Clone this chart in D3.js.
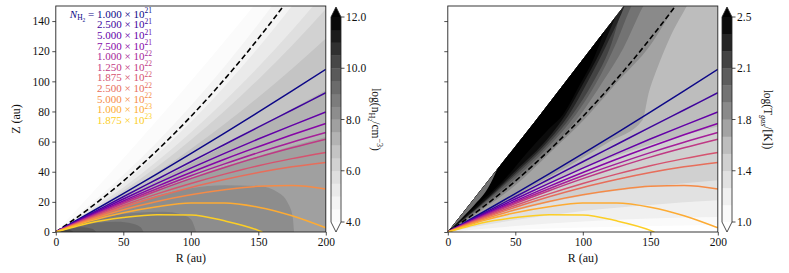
<!DOCTYPE html>
<html><head><meta charset="utf-8">
<script src="https://cdn.jsdelivr.net/npm/d3@7/dist/d3.min.js"></script>
<style>
html,body{margin:0;padding:0;background:#fff;}
svg{display:block;}
text{font-family:"Liberation Serif","Times New Roman",serif;fill:#111;}
</style></head><body>
<svg id="chart" width="789" height="273"></svg>
<script>
// ---------------- data ----------------
const rGrid = [0,25,50,75,100,125,150,175,200];
const xTicks = [0,50,100,150,200];
const zTicks = [0,20,40,60,80,100,120,140];
const densTicks = [4,6,8,10,12];
const densTickLabels = ["4.0","6.0","8.0","10.0","12.0"];
const tempTicks = [1.0,1.375,1.75,2.125,2.5];
const tempTickLabels = ["1.0","1.4","1.8","2.1","2.5"];
const densLevels = [4.0,4.5,5.0,5.5,6.0,6.5,7.0,7.5,8.0,8.5,9.0,9.5,10.0,10.5,11.0,11.5,12.0];
const tempLevels = [1.0,1.125,1.25,1.375,1.5,1.625,1.75,1.875,2.0,2.125,2.25,2.375,2.5];

// column-density surfaces N_H2
const nh2Mantissa = ["1.000","2.500","5.000","7.500","1.000","1.250","1.875","2.500","5.000","1.000","1.875"];
const nh2Exponent = ["21","21","21","21","22","22","22","22","22","23","23"];
const nh2R = [
 [0,10,25,50,75,100,125,150,175,200],
 [0,10,25,50,75,100,125,150,175,200],
 [0,10,25,50,75,100,125,150,175,200],
 [0,10,25,50,75,100,125,150,175,200],
 [0,10,25,50,75,100,125,150,175,200],
 [0,10,25,50,75,100,125,150,175,200],
 [0,10,25,50,75,100,125,150,175,200],
 [0,10,25,50,75,100,125,150,175,200],
 [0,10,25,50,75,100,125,150,175,200],
 [0,10,25,50,75,100,125,150,175,200],
 [0,10,25,50,75,100,125,150,153]];
const nh2Z = [
 [0,5.0,12.6,25.5,38.6,52.0,65.6,79.5,93.6,108.0],
 [0,4.7,11.7,23.4,35.0,46.6,58.1,69.6,81.0,92.4],
 [0,4.5,11.1,21.9,32.3,42.4,52.2,61.7,70.8,79.6],
 [0,4.3,10.5,20.6,30.3,39.5,48.3,56.6,64.5,72.0],
 [0,4.1,10.1,19.7,28.7,37.3,45.2,52.7,59.6,66.0],
 [0,4.0,9.7,18.9,27.4,35.4,42.8,49.7,55.9,61.6],
 [0,3.7,9.1,17.6,25.3,32.2,38.4,44.0,48.7,52.8],
 [0,3.5,8.6,16.4,23.4,29.6,34.9,39.5,43.3,46.2],
 [0,3.3,8.0,14.8,20.3,24.7,28.0,30.3,30.8,28.5],
 [0,3.0,7.2,12.8,16.8,19.2,19.3,16.5,10.8,2.8],
 [0,2.5,6.0,9.6,11.5,11.3,7.4,1.1,0]];
const dashedZ = [0,15.8,33.8,54.1,76.6,101.4,128.4,157.7,189.2]; // on rGrid

// density contour boundaries (region below curve is denser than level)
const densFanLevels = [4.0,4.5,5.0,5.5,6.0,6.5,7.0,7.5];
const densFanZ = [
 [0,24.1,48.8,74.1,100.0,126.6,153.8,181.6,210.0],
 [0,17.9,37.8,59.8,83.8,109.9,138.0,168.2,200.4],
 [0,15.1,32.3,51.6,73.0,96.6,122.3,150.1,180.0],
 [0,13.9,29.5,46.9,66.0,86.9,109.5,133.9,160.0],
 [0,12.8,27.3,43.3,61.0,80.3,101.3,123.8,148.0],
 [0,12.1,25.3,39.6,55.1,71.7,89.5,108.4,128.4],
 [0,11.1,22.4,33.8,45.5,57.3,69.4,81.6,94.0],
 [0,9.7,18.9,27.6,35.8,43.4,50.4,57.0,63.0]];
const densCoreLevels = [8.0,8.5,9.0,9.5,10.0];
const densCoreR = [
 [0,25,50,75,100,125,150,165,172,175.5,176.5],
 [0,20,40,60,80,92,100,104],
 [0,15,30,45,57,63,65],
 [0,10,20,27,30],
 [0,5,10,13]];
const densCoreZ = [
 [0,9,17,24,29,31,30.5,26,19,10,0],
 [0,6.5,10.5,12.8,13.4,12,8.5,0],
 [0,4,6,6.8,5.5,3,0],
 [0,2.2,3.2,2.2,0],
 [0,1,1.3,0]];

// temperature: data edge and contour boundaries (region above curve is hotter than level)
const tempEdgeR = [0,65.3,130.4,140];
const tempEdgeZ = [0,74.2,150,161.5];
const tempCurveLevels = [1.0,1.125,1.25,1.375,1.5,1.625,1.75,1.875,2.0,2.125,2.25,2.375,2.5];
const tempCurveR = [
 [0,50,100,150,200],
 [0,50,100,150,200],
 [0,50,100,150,200],
 [0,50,100,150,200],
 [0,50,100,150,200],
 [0,30,60,90,120,144,149,154,157,165,177,187],
 [0,25,50,75,104,125,150,168.5,180],
 [0,25,50,75,98,115,130,144.8,155],
 [0,25,50,75,94.5,110,125,136,145],
 [0,25,50,75,92,108,120,130,138],
 [0,25,50,75,89.5,105,118,130,135],
 [0,25,50,75,87,100,112,122,130],
 [0,20,41,60,75,85,98,108,116]];
const tempCurveZ = [
 [0,1.5,3,4,4.6],
 [0,4,7,9,10],
 [0,8,14,18,21],
 [0,14,24,30,34.4],
 [0,22,42,58,70],
 [0,14,29,44,60,74,93,106,113,130,150,168],
 [0,14.5,31,52,77.5,99,124,150,165],
 [0,16,33,54,77.5,100,122,150,165],
 [0,17,35.5,57,77.5,99,126,150,165],
 [0,18,37.5,59,77.5,100,122,150,165],
 [0,18.5,39,61,77.5,102,125,148,160],
 [0,19,40.5,63,77.5,98,118,138,155],
 [0,16.5,34,54,68.5,77.5,98,115,133.4]];
// cooler strip along the inner edge of the data wedge
const tempStripLevel = 1.875;
const tempStripR = [0,10,20,30,37];
const tempStripZ = [0,8.8,18.2,29.5,42.5];

// ---------------- helpers ----------------
const greyStops = ["#ffffff","#f0f0f0","#d9d9d9","#bdbdbd","#969696","#737373","#525252","#252525","#000000"];
function greys(t){
  t = Math.max(0, Math.min(1, t));
  const s = t*8, i = Math.min(7, Math.floor(s));
  return d3.interpolateRgb(greyStops[i], greyStops[i+1])(s-i);
}
const densColor = L => L >= 12 ? "#000" : greys((L + 0.25 - 4)/8);
const tempColor = L => L >= 2.5 ? "#000" : greys((L + 0.0625 - 1)/1.5);
const lineColor = i => d3.interpolatePlasma(i*0.09);

const svg = d3.select("#chart");
const yZ = d3.scaleLinear().domain([0,150]).range([232,6]);
const xL = d3.scaleLinear().domain([0,200]).range([55.8,325.8]);
const xR = d3.scaleLinear().domain([0,200]).range([447.8,717.8]);
const defs = svg.append("defs");
[["L",xL],["R",xR]].forEach(([id,x])=>{
  defs.append("clipPath").attr("id","clip"+id).append("rect")
    .attr("x",x(0)).attr("y",yZ(150)).attr("width",x(200)-x(0)).attr("height",yZ(0)-yZ(150));
});
const maskPts = tempEdgeR.map((r,i)=>[r,tempEdgeZ[i]]).concat([[200,170],[200,0]]);
defs.append("clipPath").attr("id","maskT").append("path")
  .attr("d", d3.line().x(d=>xR(d[0])).y(d=>yZ(d[1]))(maskPts)+"Z");

const zip = (R,Z) => R.map((r,i)=>[r,Z[i]]);

// ---------------- left panel: density ----------------
const gL = svg.append("g").attr("clip-path","url(#clipL)");
gL.append("rect").attr("x",xL(0)).attr("y",yZ(150)).attr("width",xL(200)-xL(0)).attr("height",yZ(0)-yZ(150)).attr("fill","#fff");
const areaBelow = x => d3.area().x(d=>x(d[0])).y0(yZ(0)).y1(d=>yZ(d[1])).curve(d3.curveMonotoneX);
densFanLevels.forEach((L,i)=>{
  gL.append("path").attr("d", areaBelow(xL)(zip(rGrid,densFanZ[i]))).attr("fill", densColor(L));
});
densCoreLevels.forEach((L,i)=>{
  gL.append("path").attr("d", areaBelow(xL)(zip(densCoreR[i],densCoreZ[i]))).attr("fill", densColor(L));
});

// ---------------- right panel: temperature ----------------
const gR = svg.append("g").attr("clip-path","url(#clipR)").append("g").attr("clip-path","url(#maskT)");
const areaAbove = d3.area().x(d=>xR(d[0])).y0(yZ(175)).y1(d=>yZ(d[1])).curve(d3.curveMonotoneX);
tempCurveLevels.forEach((L,i)=>{
  gR.append("path").attr("d", areaAbove(zip(tempCurveR[i],tempCurveZ[i]))).attr("fill", tempColor(L));
});
gR.append("path").attr("d", areaAbove(zip(tempStripR,tempStripZ))).attr("fill", tempColor(tempStripLevel));

// ---------------- lines (both panels) ----------------
[["L",xL],["R",xR]].forEach(([id,x])=>{
  const g = svg.append("g").attr("clip-path","url(#clip"+id+")");
  const ln = d3.line().x(d=>x(d[0])).y(d=>yZ(d[1])).curve(d3.curveMonotoneX);
  g.append("path").attr("d", ln(zip(rGrid,dashedZ))).attr("fill","none")
    .attr("stroke","#000").attr("stroke-width",1.6).attr("stroke-dasharray","5.5,3");
  nh2Z.forEach((Z,i)=>{
    g.append("path").attr("d", ln(zip(nh2R[i],Z))).attr("fill","none")
      .attr("stroke", lineColor(i)).attr("stroke-width",1.5);
  });
});

// ---------------- axes & frames ----------------
[["L",xL,true],["R",xR,false]].forEach(([id,x,showY])=>{
  const ax = svg.append("g").attr("transform",`translate(0,${yZ(0)})`)
    .call(d3.axisBottom(x).tickValues(xTicks).tickSize(3.5).tickSizeOuter(0).tickPadding(2.5).tickFormat(d3.format("d")));
  ax.attr("font-size",11.5);
  ax.select(".domain").remove();
  ax.selectAll("line").attr("stroke","#222").attr("stroke-width",0.8);
  const ay = svg.append("g").attr("transform",`translate(${x(0)},0)`)
    .call(d3.axisLeft(yZ).tickValues(zTicks).tickSize(3.5).tickSizeOuter(0).tickPadding(2.5)
      .tickFormat(showY ? d3.format("d") : ""));
  ay.attr("font-size",11.5);
  ay.select(".domain").remove();
  ay.selectAll("line").attr("stroke","#222").attr("stroke-width",0.8);
  svg.append("rect").attr("x",x(0)).attr("y",yZ(150)).attr("width",x(200)-x(0)).attr("height",yZ(0)-yZ(150))
    .attr("fill","none").attr("stroke","#222").attr("stroke-width",0.9);
  svg.append("text").attr("x",(x(0)+x(200))/2).attr("y",262).attr("text-anchor","middle")
    .attr("font-size",12).text("R (au)");
});
svg.append("text").attr("transform",`translate(20,${(yZ(0)+yZ(150))/2}) rotate(-90)`)
  .attr("text-anchor","middle").attr("font-size",12).text("Z (au)");

// ---------------- colorbars ----------------
function colorbar(x0, levels, colorFn, ticks, tickLabels, underColor, labelX, labelParts){
  const w = 10, top = 17, bot = 222;
  const cb = d3.scaleLinear().domain([levels[0], levels[levels.length-1]]).range([bot, top]);
  const g = svg.append("g");
  for(let i=0;i<levels.length-1;i++){
    g.append("rect").attr("x",x0).attr("y",cb(levels[i+1])).attr("width",w)
      .attr("height",cb(levels[i])-cb(levels[i+1])+0.3).attr("fill",colorFn(levels[i]));
  }
  g.append("path").attr("d",`M${x0},${top}L${x0+w/2},${top-10}L${x0+w},${top}Z`).attr("fill","#000");
  g.append("path").attr("d",`M${x0},${bot}L${x0+w/2},${bot+10}L${x0+w},${bot}Z`).attr("fill",underColor);
  g.append("path").attr("d",`M${x0},${top}L${x0+w/2},${top-10}L${x0+w},${top}L${x0+w},${bot}L${x0+w/2},${bot+10}L${x0},${bot}Z`)
    .attr("fill","none").attr("stroke","#222").attr("stroke-width",0.8);
  ticks.forEach((t,i)=>{
    g.append("line").attr("x1",x0+w).attr("x2",x0+w+3.5).attr("y1",cb(t)).attr("y2",cb(t)).attr("stroke","#222").attr("stroke-width",0.8);
    g.append("text").attr("x",x0+w+5).attr("y",cb(t)).attr("dy","0.35em").attr("font-size",11.5).text(tickLabels[i]);
  });
  const lt = svg.append("text").attr("transform",`translate(${labelX},${(top+bot)/2}) rotate(90)`)
    .attr("text-anchor","middle").attr("font-size",11.5);
  labelParts.forEach(p=>{
    const ts = lt.append("tspan").text(p.t);
    if(p.dy) ts.attr("dy",p.dy);
    if(p.fs) ts.attr("font-size",p.fs);
    if(p.it) ts.attr("font-style","italic");
  });
}
colorbar(331, densLevels, densColor, densTicks, densTickLabels, "#fff", 372, [
  {t:"log(n"},{t:"H",dy:3,fs:8},{t:"2",dy:1.5,fs:6},{t:"/cm",dy:-4.5},{t:"−3",dy:-4.5,fs:8},{t:")",dy:4.5}]);
colorbar(722, tempLevels, tempColor, tempTicks, tempTickLabels, "#fff", 764, [
  {t:"log(T"},{t:"gas",dy:3,fs:8,it:true},{t:"/[K])",dy:-3}]);

// ---------------- N_H2 labels ----------------
nh2Mantissa.forEach((m,i)=>{
  const t = svg.append("text").attr("x",152).attr("y",14 + i*10.6).attr("dy","0.35em")
    .attr("text-anchor","end").attr("font-size",11).style("fill", lineColor(i));
  if(i===0){
    t.append("tspan").attr("font-style","italic").text("N");
    t.append("tspan").attr("font-size",7.5).attr("dy",2.5).text("H");
    t.append("tspan").attr("font-size",5.5).attr("dy",1.2).text("2");
    t.append("tspan").attr("dy",-3.7).text(" = ");
  }
  t.append("tspan").text(m + " × 10");
  t.append("tspan").attr("font-size",7.5).attr("dy",-4.5).text(nh2Exponent[i]);
});
</script>
</body></html>
